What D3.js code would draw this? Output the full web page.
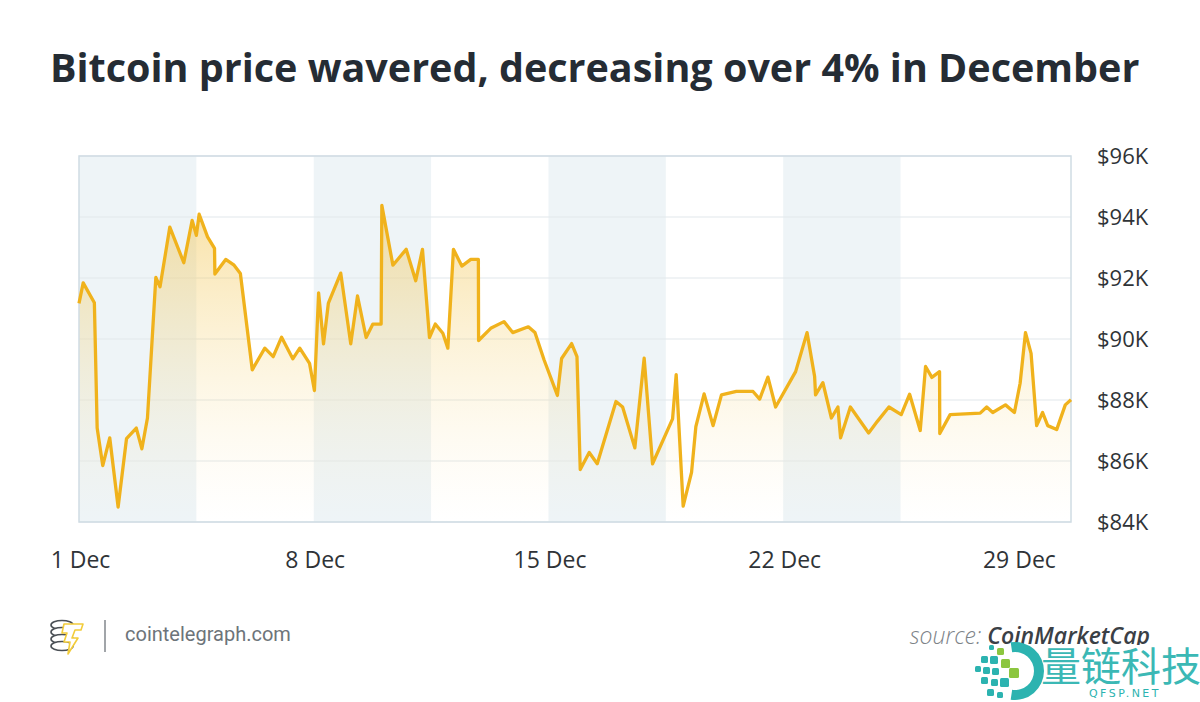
<!DOCTYPE html>
<html>
<head>
<meta charset="utf-8">
<script src="https://cdn.jsdelivr.net/npm/d3@7"></script>
<style>
  body { margin: 0; background: #fff; }
  svg { display: block; }
</style>
</head>
<body>
<div id="chart"></div>
<script>
var width = 1200
var height = 702
var margin = {top: 156, bottom: 180, left: 79, right: 129}

// price data (USD thousands)
var times = [
  "2024-12-01 00:00","2024-12-01 03:00","2024-12-01 11:00","2024-12-01 13:00","2024-12-01 17:00","2024-12-01 22:00",
  "2024-12-02 04:00","2024-12-02 10:00","2024-12-02 17:00","2024-12-02 21:00",
  "2024-12-03 01:00","2024-12-03 07:00","2024-12-03 10:00","2024-12-03 17:00",
  "2024-12-04 03:00","2024-12-04 09:00","2024-12-04 12:00","2024-12-04 14:00","2024-12-04 20:00",
  "2024-12-05 01:00","2024-12-05 01:15","2024-12-05 09:00","2024-12-05 15:00","2024-12-05 19:30",
  "2024-12-06 04:00","2024-12-06 13:00","2024-12-06 19:00",
  "2024-12-07 01:00","2024-12-07 09:00","2024-12-07 14:00","2024-12-07 21:00",
  "2024-12-08 00:30","2024-12-08 03:30","2024-12-08 07:00","2024-12-08 10:30","2024-12-08 19:20",
  "2024-12-09 02:30","2024-12-09 07:20","2024-12-09 13:30","2024-12-09 18:20",
  "2024-12-10 00:15","2024-12-10 00:45","2024-12-10 08:40","2024-12-10 18:10",
  "2024-12-11 01:00","2024-12-11 05:50","2024-12-11 10:50","2024-12-11 15:00","2024-12-11 20:25",
  "2024-12-12 00:00","2024-12-12 04:00","2024-12-12 10:00","2024-12-12 16:25","2024-12-12 21:50","2024-12-12 22:00",
  "2024-12-13 06:40","2024-12-13 16:10","2024-12-13 22:25",
  "2024-12-14 09:35","2024-12-14 14:20","2024-12-14 20:50",
  "2024-12-15 06:25","2024-12-15 09:25","2024-12-15 16:35","2024-12-15 20:25","2024-12-15 22:45",
  "2024-12-16 05:10","2024-12-16 10:55",
  "2024-12-17 00:20","2024-12-17 05:05","2024-12-17 13:50","2024-12-17 20:30",
  "2024-12-18 02:30","2024-12-18 16:50","2024-12-18 19:25",
  "2024-12-19 00:25","2024-12-19 06:25","2024-12-19 09:30","2024-12-19 15:25","2024-12-19 21:50",
  "2024-12-20 03:50","2024-12-20 14:30",
  "2024-12-21 02:25","2024-12-21 07:10","2024-12-21 13:05","2024-12-21 18:35",
  "2024-12-22 08:55","2024-12-22 17:05","2024-12-22 22:30","2024-12-22 23:10",
  "2024-12-23 04:25","2024-12-23 10:30","2024-12-23 15:10","2024-12-23 17:05",
  "2024-12-24 00:05","2024-12-24 13:10","2024-12-24 19:25",
  "2024-12-25 03:40","2024-12-25 12:30","2024-12-25 18:30",
  "2024-12-26 02:05","2024-12-26 05:55","2024-12-26 10:25","2024-12-26 15:55","2024-12-26 16:05","2024-12-26 23:30",
  "2024-12-27 21:00",
  "2024-12-28 01:40","2024-12-28 06:00","2024-12-28 15:05","2024-12-28 21:30",
  "2024-12-29 01:35","2024-12-29 05:25","2024-12-29 09:25","2024-12-29 13:25","2024-12-29 17:40","2024-12-29 21:20",
  "2024-12-30 03:45","2024-12-30 09:55","2024-12-30 14:00"
]
var prices = [
  91.17,91.84,91.19,87.08,85.85,86.76,
  84.49,86.73,87.08,86.40,
  87.41,92.02,91.71,93.67,
  92.50,93.89,93.40,94.09,93.35,
  92.97,92.13,92.61,92.42,92.15,
  88.99,89.70,89.42,
  90.06,89.35,89.70,89.20,
  88.31,91.51,89.84,91.18,92.16,
  89.84,91.41,90.05,90.49,
  90.49,94.38,92.42,92.94,
  91.91,92.94,90.05,90.49,90.19,
  89.70,92.94,92.39,92.61,92.61,89.95,
  90.35,90.57,90.21,
  90.40,90.21,89.32,
  88.15,89.36,89.85,89.42,85.72,
  86.28,85.91,
  87.95,87.77,86.43,89.37,
  85.91,87.38,88.83,
  84.52,85.63,87.13,88.20,87.16,
  88.17,88.28,
  88.28,88.03,88.75,87.77,
  88.93,90.21,88.77,88.17,
  88.57,87.41,87.77,86.76,
  87.77,86.92,87.30,
  87.77,87.52,88.19,
  87.00,89.10,88.74,88.93,86.90,87.52,
  87.57,
  87.77,87.59,87.84,87.59,
  88.55,90.21,89.53,87.16,87.59,87.16,
  87.03,87.84,88.01
]

var xDomain = ["2024-12-01 00:00", "2024-12-30 14:00"]
var yDomain = [84, 96]
var yTicks = [84, 86, 88, 90, 92, 94, 96]
var xTickDates = ["2024-12-01 00:00", "2024-12-08 00:00", "2024-12-15 00:00", "2024-12-22 00:00", "2024-12-29 00:00"]
var xTickLabels = ["1 Dec", "8 Dec", "15 Dec", "22 Dec", "29 Dec"]
// shaded half-week bands
var bandStarts = ["2024-12-01 00:00", "2024-12-08 00:00", "2024-12-15 00:00", "2024-12-22 00:00"]
var bandEnds = ["2024-12-04 12:00", "2024-12-11 12:00", "2024-12-18 12:00", "2024-12-25 12:00"]

var parseTime = d3.timeParse("%Y-%m-%d %H:%M")

var data = times.map(function(t, i) {
  return {date: parseTime(t), price: prices[i]}
})

var svg = d3.select('#chart')
      .append('svg')
      .attr('width', width)
      .attr('height', height)

var x = d3.scaleTime()
    .domain(xDomain.map(parseTime))
    .range([margin.left, width - margin.right])
var y = d3.scaleLinear()
    .domain(yDomain)
    .range([height - margin.bottom, margin.top])

// title
svg.append('text')
    .attr('x', 50)
    .attr('y', 82)
    .attr('font-family', 'Open Sans')
    .attr('font-weight', 700)
    .attr('font-size', 39.5)
    .attr('fill', '#252c34')
    .text('Bitcoin price wavered, decreasing over 4% in December')

// background bands
svg.selectAll('rect.band')
    .data(bandStarts)
    .enter()
    .append('rect')
    .attr('class', 'band')
    .attr('x', function(d) { return x(parseTime(d)) })
    .attr('y', y(yDomain[1]))
    .attr('width', function(d, i) { return x(parseTime(bandEnds[i])) - x(parseTime(d)) })
    .attr('height', y(yDomain[0]) - y(yDomain[1]))
    .attr('fill', '#eef4f7')

// gridlines
svg.append('g')
    .selectAll('line')
    .data(yTicks)
    .enter()
    .append('line')
    .attr('x1', x.range()[0])
    .attr('x2', x.range()[1])
    .attr('y1', function(d) { return y(d) })
    .attr('y2', function(d) { return y(d) })
    .attr('stroke', '#e1e8ec')
    .attr('stroke-width', 1.2)

// area gradient
var grad = svg.append('defs').append('linearGradient')
    .attr('id', 'fade')
    .attr('gradientUnits', 'userSpaceOnUse')
    .attr('x1', 0).attr('x2', 0)
    .attr('y1', y(94.5)).attr('y2', y(84))
grad.append('stop').attr('offset', '0%').attr('stop-color', '#f2c24a').attr('stop-opacity', 0.5)
grad.append('stop').attr('offset', '55%').attr('stop-color', '#f6d67f').attr('stop-opacity', 0.22)
grad.append('stop').attr('offset', '100%').attr('stop-color', '#fbe9b8').attr('stop-opacity', 0.0)

var area = d3.area()
    .x(function(d) { return x(d.date) })
    .y0(y(yDomain[0]))
    .y1(function(d) { return y(d.price) })

svg.append('path')
    .datum(data)
    .attr('d', area)
    .attr('fill', 'url(#fade)')

// plot frame
svg.append('rect')
    .attr('x', x.range()[0])
    .attr('y', y(yDomain[1]))
    .attr('width', x.range()[1] - x.range()[0])
    .attr('height', y(yDomain[0]) - y(yDomain[1]))
    .attr('fill', 'none')
    .attr('stroke', '#cfdce3')
    .attr('stroke-width', 1.5)

var line = d3.line()
    .x(function(d) { return x(d.date) })
    .y(function(d) { return y(d.price) })

svg.append('path')
    .datum(data)
    .attr('d', line)
    .attr('fill', 'none')
    .attr('stroke', '#f0b21c')
    .attr('stroke-width', 3.3)
    .attr('stroke-linejoin', 'round')

// y axis on the right
var yAxis = d3.axisRight(y)
    .tickValues(yTicks)
    .tickSize(0)
    .tickPadding(0)
    .tickFormat(function(d) { return '$' + d + 'K' })
var yg = svg.append('g')
    .attr('transform', 'translate(1097,0)')
    .call(yAxis)
yg.select('.domain').remove()
yg.selectAll('text')
    .attr('font-family', 'Open Sans')
    .attr('font-size', 22)
    .attr('fill', '#2f3337')
    .attr('dy', '0.36em')

// x axis
var xAxis = d3.axisBottom(x)
    .tickValues(xTickDates.map(parseTime))
    .tickSize(0)
    .tickPadding(0)
    .tickFormat(function(d, i) { return xTickLabels[i] })
var xg = svg.append('g')
    .attr('transform', 'translate(1,552)')
    .call(xAxis)
xg.select('.domain').remove()
xg.selectAll('text')
    .attr('font-family', 'Open Sans')
    .attr('font-size', 23)
    .attr('fill', '#2f3337')
    .attr('dy', 16)

// footer: cointelegraph logo
var logo = svg.append('g').attr('transform', 'translate(50,620)')
;[0, 7, 14, 21].forEach(function(dy) {
  logo.append('ellipse')
      .attr('cx', 12).attr('cy', 5 + dy)
      .attr('rx', 11).attr('ry', 4.5)
      .attr('fill', '#fff')
      .attr('stroke', '#4a4f55')
      .attr('stroke-width', 1.6)
})
logo.append('path')
    .attr('d', 'M14,4 L33,4 L31,10 L25,10 L22,18 L28,18 L18,34 L20,22 L14,22 L17,13 L12,13 Z')
    .attr('fill', '#fff')
    .attr('stroke', '#f2cc3a')
    .attr('stroke-width', 1.6)
    .attr('stroke-linejoin', 'round')

svg.append('line')
    .attr('x1', 105).attr('x2', 105)
    .attr('y1', 620).attr('y2', 652)
    .attr('stroke', '#8a8f94')
    .attr('stroke-width', 1.6)

svg.append('text')
    .attr('x', 125)
    .attr('y', 641)
    .attr('font-family', 'Roboto')
    .attr('font-size', 20)
    .attr('fill', '#6d747a')
    .text('cointelegraph.com')

var src = svg.append('text')
    .attr('x', 1150)
    .attr('y', 644)
    .attr('text-anchor', 'end')
    .attr('font-family', 'Open Sans')
    .attr('font-style', 'italic')
    .attr('font-size', 23)
src.append('tspan').attr('fill', '#7d8388').attr('font-weight', 300).text('source: ')
src.append('tspan').attr('fill', '#3a4046').attr('font-weight', 600).text('CoinMarketCap')

// watermark (sits over the source line, as in the picture)
svg.append('rect')
    .attr('x', 982).attr('y', 645)
    .attr('width', 218).attr('height', 57)
    .attr('fill', '#fff')
var wm = svg.append('g').attr('transform', 'translate(975,642)')
wm.append('path')
    .attr('d', d3.arc()({innerRadius: 19, outerRadius: 29, startAngle: -0.15, endAngle: Math.PI + 0.15}))
    .attr('transform', 'translate(40,29)')
    .attr('fill', '#2cb3b0')
var sq = [[14,3,5,'#2cb3b0'],[22,6,7,'#8cc63f'],[6,14,7,'#2cb3b0'],[15,14,8,'#2cb3b0'],[26,17,9,'#8cc63f'],
          [0,24,6,'#2cb3b0'],[8,25,7,'#2cb3b0'],[17,26,7,'#2cb3b0'],[34,26,10,'#8cc63f'],
          [6,35,7,'#2cb3b0'],[16,37,7,'#2cb3b0'],[25,36,9,'#2cb3b0'],[12,47,7,'#2cb3b0'],[22,50,6,'#2cb3b0']]
sq.forEach(function(s) {
  wm.append('rect')
      .attr('x', s[0]).attr('y', s[1]).attr('width', s[2]).attr('height', s[2])
      .attr('rx', 1.5)
      .attr('fill', s[3])
})
svg.append('text')
    .attr('x', 1041)
    .attr('y', 681)
    .attr('font-family', 'Noto Sans CJK SC')
    .attr('font-size', 40)
    .attr('fill', '#3bb8b5')
    .text('量链科技')
svg.append('text')
    .attr('x', 1125)
    .attr('y', 697)
    .attr('text-anchor', 'middle')
    .attr('font-family', 'DejaVu Sans')
    .attr('font-size', 11)
    .attr('letter-spacing', 2.5)
    .attr('fill', '#2cb3b0')
    .text('QFSP.NET')
</script>
</body>
</html>
